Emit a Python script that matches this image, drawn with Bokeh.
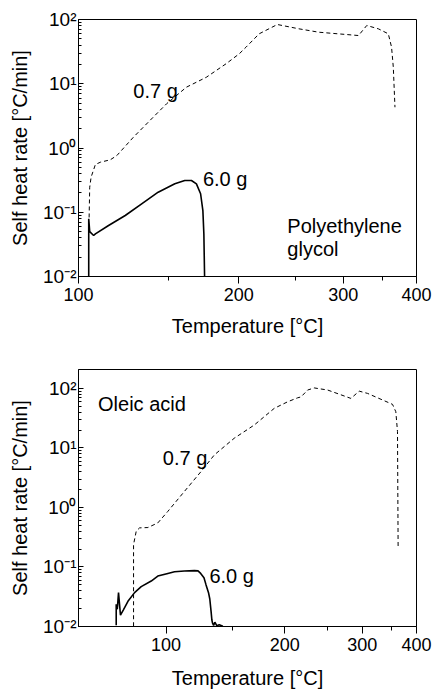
import numpy as np
from bokeh.plotting import figure
from bokeh.layouts import column
from bokeh.models import Range1d, FixedTicker, CustomJSTickFormatter, Label
from bokeh.embed import file_html
from bokeh.resources import INLINE

# ---------------- data (temperature in degC, self heat rate in degC/min) ----------------
# Polyethylene glycol, 0.7 g (dashed)
peg_small_T = [105.3, 105.6, 106.3, 108.5, 111.1, 116.3, 119.9, 129.1, 138.8, 149.0, 161.9,
               175.6, 190.2, 200.4, 205.8, 216.7, 232.6, 252.9, 273.1, 318.4, 328.8, 344.0,
               357.7, 362.3, 364.8, 367.2]
peg_small_r = [0.083, 0.245, 0.351, 0.554, 0.601, 0.655, 0.764, 1.47, 2.68, 4.87, 8.84,
               12.6, 20.5, 29.3, 37.1, 59.9, 83.6, 71.6, 63.4, 56.3, 80.7, 71.6,
               59.9, 37.1, 18.1, 4.31]
# Polyethylene glycol, 6.0 g (solid)
peg_large_T = [105.1, 105.1, 105.6, 107.6, 108.5, 115.4, 124.5, 133.9, 143.8, 154.3, 160.8,
               165.3, 168.7, 171.6, 173.2, 173.9, 174.4]
peg_large_r = [0.0101, 0.079, 0.05, 0.0435, 0.046, 0.0622, 0.089, 0.135, 0.205, 0.277, 0.312,
               0.312, 0.277, 0.194, 0.106, 0.046, 0.0101]
# Oleic acid, 0.7 g (dashed)
ole_small_T = [79.6, 79.6, 81.2, 83.2, 88.3, 94.6, 101.2, 112.6, 124.8, 135.1, 151.6, 169.5,
               189.0, 203.1, 214.1, 217.9, 225.7, 233.6, 250.6, 282.9, 295.4, 308.6, 351.9,
               358.1, 361.3, 362.5]
ole_small_r = [0.0101, 0.238, 0.40, 0.454, 0.46, 0.55, 0.86, 1.86, 4.02, 7.65, 14.6, 24.3,
               46.3, 59.7, 69.6, 72.0, 94.0, 102.0, 94.0, 68.0, 90.0, 82.5, 54.0,
               40.6, 18.8, 0.21]
# Oleic acid, 6.0 g (solid)
ole_large_T = [69.6, 69.6, 70.2, 70.9, 72.0, 73.6, 76.3, 80.2, 84.2, 90.4, 94.6, 101.2, 105.7,
               112.6, 119.8, 122.5, 124.5, 127.0, 128.6, 130.5, 131.5, 132.5, 133.1, 133.6,
               134.5, 135.5, 137.0, 139.0, 142.0]
ole_large_r = [0.0105, 0.0236, 0.0195, 0.037, 0.0155, 0.0188, 0.0265, 0.0371, 0.0467, 0.058,
               0.0703, 0.078, 0.083, 0.0855, 0.087, 0.086, 0.078, 0.066, 0.050, 0.037, 0.029,
               0.018, 0.013, 0.0115, 0.0104, 0.0118, 0.0103, 0.0107, 0.0101]

x_major_T = [100, 200, 300, 400]
x_minor_T = [150, 250, 350]
y_major = [1e-2, 1e-1, 1e0, 1e1, 1e2]
y_minor = [k * 10.0 ** n for n in range(-2, 2) for k in range(2, 10)]

FONT = "Liberation Sans"


def arr(T):
    """Arrhenius-type temperature axis: -1000/T(K)."""
    return -1000.0 / (np.asarray(T, dtype=float) + 273.15)


def make_panel(height, t_min, y_max, borders, label_std):
    left, right, top, bottom = borders
    p = figure(width=433, height=height, y_axis_type="log",
               x_range=Range1d(float(arr(t_min)), float(arr(400))),
               y_range=Range1d(0.01, y_max),
               output_backend="svg", toolbar_location=None,
               min_border_left=left, min_border_right=right,
               min_border_top=top, min_border_bottom=bottom)
    p.background_fill_color = "white"
    p.border_fill_color = "white"
    p.outline_line_color = "black"
    p.outline_line_width = 1
    p.xgrid.visible = False
    p.ygrid.visible = False

    p.xaxis.ticker = FixedTicker(ticks=[float(v) for v in arr(x_major_T)],
                                 minor_ticks=[float(v) for v in arr(x_minor_T)])
    p.xaxis.formatter = CustomJSTickFormatter(code="return String(Math.round(-1000/tick - 273.15));")
    p.yaxis.ticker = FixedTicker(ticks=y_major, minor_ticks=y_minor)
    p.yaxis.formatter = CustomJSTickFormatter(code="""
        const sup = {"-":"\u207b","0":"\u2070","1":"\u00b9","2":"\u00b2","3":"\u00b3"};
        const e = Math.round(Math.log10(tick));
        return "10" + String(e).split("").map(c => sup[c]).join("");
    """)

    for ax in (p.xaxis, p.yaxis):
        ax.axis_line_color = "black"
        ax.major_tick_line_color = "black"
        ax.minor_tick_line_color = "black"
        ax.major_label_text_font = FONT
        ax.major_label_text_color = "black"
        ax.axis_label_text_font = FONT
        ax.axis_label_text_font_style = "normal"
        ax.axis_label_text_font_size = "20px"
        ax.axis_label_text_color = "black"

    p.xaxis.major_tick_in = 0
    p.xaxis.major_tick_out = 7
    p.xaxis.minor_tick_in = 0
    p.xaxis.minor_tick_out = 4
    p.xaxis.major_label_text_font_size = "18px"
    p.xaxis.major_label_standoff = 4
    p.xaxis.axis_label = "Temperature [°C]"
    p.xaxis.axis_label_standoff = label_std

    p.yaxis.major_tick_in = 5
    p.yaxis.major_tick_out = 0
    p.yaxis.minor_tick_in = 3
    p.yaxis.minor_tick_out = 0
    p.yaxis.major_label_text_font_size = "19px"
    p.yaxis.major_label_standoff = 2
    p.yaxis.axis_label = "Self heat rate [°C/min]"
    p.yaxis.axis_label_standoff = 9
    return p


def add_text(p, T, r, txt):
    p.add_layout(Label(x=float(arr(T)), y=r, text=txt, text_font=FONT,
                       text_font_size="20px", text_color="black",
                       text_align="left", text_baseline="alphabetic"))


# ---------------- top panel: Polyethylene glycol ----------------
p1 = make_panel(345, 100, 100, (78, 14, 19, 69), 11)
p1.line(arr(peg_small_T), peg_small_r, line_color="black", line_width=1, line_dash="4 3")
p1.line(arr(peg_large_T), peg_large_r, line_color="black", line_width=1.6)
add_text(p1, 129.1, 7.71, "0.7 g")
add_text(p1, 173.2, 0.33, "6.0 g")
add_text(p1, 241.8, 0.062, "Polyethylene")
add_text(p1, 241.8, 0.027, "glycol")

# ---------------- bottom panel: Oleic acid ----------------
p2 = make_panel(346, 49.7, 208, (77, 17, 24, 64), 13)
p2.line(arr(ole_small_T), ole_small_r, line_color="black", line_width=1, line_dash="4 3")
p2.line(arr(ole_large_T), ole_large_r, line_color="black", line_width=1.6)
add_text(p2, 97.9, 6.74, "0.7 g")
add_text(p2, 131.2, 0.0703, "6.0 g")
add_text(p2, 59.7, 54.0, "Oleic acid")

layout = column(p1, p2, spacing=0)
open("out.html", "w").write(file_html(layout, INLINE))
